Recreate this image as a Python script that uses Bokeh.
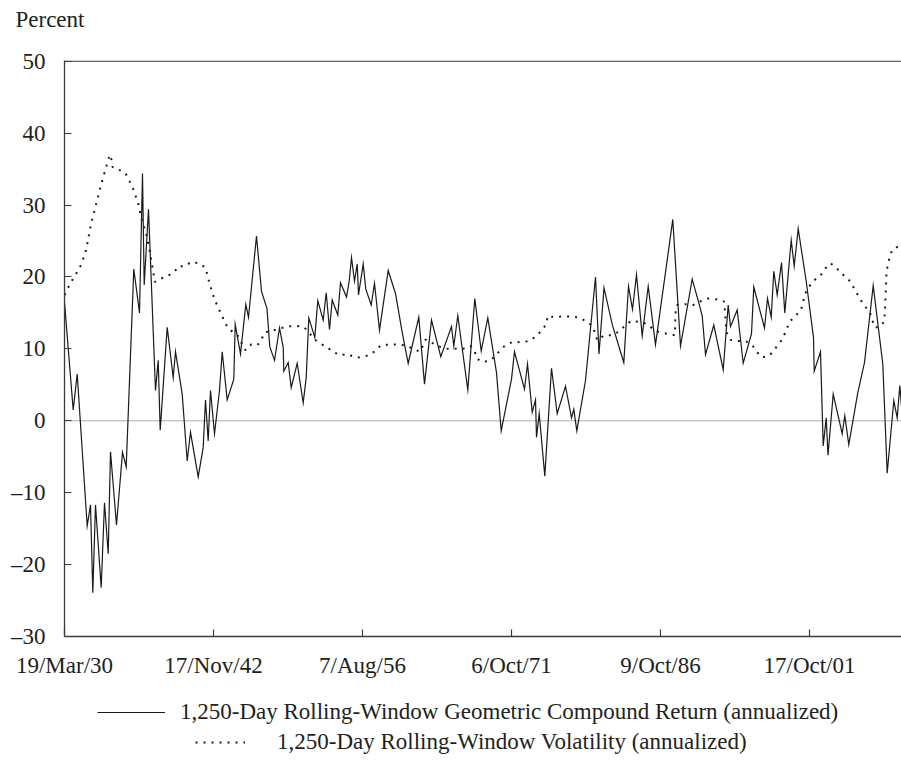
from bokeh.plotting import figure
from bokeh.layouts import column
from bokeh.models import Range1d, FixedTicker, Span, Legend, LegendItem
from bokeh.embed import file_html
from bokeh.resources import INLINE

# x = observation index (rolling-window end points), tick labels are the dates
x_tick_pos = [0, 149, 298, 447, 596, 745]
x_tick_labels = ["19/Mar/30", "17/Nov/42", "7/Aug/56", "6/Oct/71", "9/Oct/86", "17/Oct/01"]
y_ticks = [-30, -20, -10, 0, 10, 20, 30, 40, 50]

ret_obs = [0, 8.7, 12.7, 22.7, 26, 28.3, 31, 36.7, 40, 43.7, 46, 52, 58, 61.7, 69.3, 75, 78, 79.7, 84,
           91, 93.7, 95.7, 102.7, 108.7, 111, 117.7, 122.7, 126, 133.7, 138.7, 141, 143.7, 146, 150,
           155, 157.7, 162.7, 169.3, 170.7, 176, 181.3, 184, 192, 197, 202.5, 205.3, 210, 215, 218.7,
           219.3, 223.7, 226.7, 232.7, 238.7, 241.7, 244.3, 250.3, 253.3, 258.7, 261.7, 265, 267.7,
           273.3, 276, 282, 284.7, 287, 290, 292.7, 294, 298.7, 301.3, 306.7, 310, 315, 323.7, 331,
           337.7, 343.7, 354.3, 360, 367, 376.3, 387, 389.3, 393.3, 403.3, 410.3, 416.7, 423.3, 432,
           436.7, 447, 450, 460, 463, 467.7, 471, 472, 474.7, 480.3, 487, 492.7, 501, 507, 509.3,
           512.3, 521, 531, 534.5, 539.5, 547.7, 559.3, 564, 568, 572, 577.7, 583.7, 591, 608.3,
           616, 627.7, 634.3, 637.7, 641, 649.3, 658.7, 663.7, 666, 672.7, 678.7, 687, 689.3, 700,
           703, 706.7, 709.3, 712.7, 717, 720.3, 726.7, 729.7, 733.7, 741.7, 749, 749.7, 756, 758.7,
           761.7, 763.5, 768.7, 777.7, 780.3, 784.3, 793.3, 800, 808.7, 818.3, 822.7, 829.3, 832.7,
           835.3, 837]
ret_val = [16.5, 1.5, 6.5, -14.6, -11.7, -23.9, -11.7, -23.2, -11.4, -18.5, -4.3, -14.5, -4.4, -6.4,
           21.1, 15.0, 34.4, 18.9, 29.4,
           4.2, 8.4, -1.3, 13.0, 6.0, 9.6, 3.7, -5.6, -1.6, -7.8, -3.7, 2.9, -2.8, 4.2, -1.8,
           4.2, 9.6, 2.9, 5.8, 13.4, 9.3, 16.2, 14.4, 25.7, 18.0, 15.6, 10.3, 8.4, 12.9, 10.2,
           6.9, 8.1, 4.6, 8.0, 2.5, 6.0, 14.3, 11.6, 16.7, 14.0, 17.8, 12.7, 16.8,
           14.7, 19.2, 17.2, 19.4, 22.7, 19.4, 21.8, 17.5, 21.8, 18.3, 16.1, 19.1, 12.6, 20.9, 17.7,
           12.3, 8.0, 14.4, 5.1, 14.0, 8.9, 13.1, 10.4, 14.6, 4.3, 17.0, 9.7, 14.3, 6.7,
           -1.4, 5.8, 9.6, 4.4, 7.9, 1.2, 2.9, -2.3, 1.0, -7.7, 7.3, 1.0, 4.8, 0.4, 1.6,
           -1.4, 5.6, 20.0, 9.3, 18.5, 13.4, 8.1, 18.7, 15.5, 20.3, 11.8, 18.7, 10.6, 28.0,
           10.4, 19.7, 16.4, 14.6, 9.2, 13.3, 7.1, 16.1, 13.1, 15.4, 8.0, 12.1, 18.6, 12.9,
           17.0, 14.4, 20.8, 17.5, 22.0, 15.0, 25.1, 21.5, 26.7, 19.4, 11.6, 6.9, 9.6, -3.5,
           0.4, -4.8, 3.7, -1.8, 0.7, -3.3, 3.9, 8.1, 18.8, 7.9, -7.3, 2.8, 0.4,
           4.9, 2.0]

vol_obs = [0, 4.7, 8.7, 12.7, 17, 21.7, 23.3, 26.3, 30.3, 34.3, 38.3, 43, 45.3, 47, 48, 54.3, 60.7,
           64.3, 68, 73.3, 77, 81.7, 85, 89, 90.3, 95.3, 102.3, 109.3, 114.3, 120.7, 126.7, 134.3,
           141, 145, 150, 156.7, 163.3, 174.3, 177.7, 181, 186.7, 192.7, 196.7, 200, 207, 215, 222,
           230.3, 238.3, 243.7, 248.3, 255, 261.7, 268.7, 275.7, 282.7, 289, 296, 304, 310.7, 316.3,
           324.7, 332.7, 340.3, 347.7, 355.3, 358.3, 361, 368, 375.3, 383.3, 390.7, 398.3, 406, 410,
           412, 417, 424.3, 431, 436, 442, 448.7, 456.7, 464.7, 471.3, 476.7, 481.7, 483.3, 489.3,
           497.7, 505.3, 513.3, 521, 527, 530.3, 532.7, 540, 547.7, 554.3, 560.3, 566.7, 574.7, 582,
           588.3, 595, 602.7, 610.3, 611, 612.7, 621, 628.7, 636, 643.7, 652, 659.3, 660.3, 662, 666,
           673.7, 682, 688.3, 692.7, 698, 705.3, 710.3, 715.3, 719.3, 725.3, 731.3, 736.7, 740.7,
           744.3, 749.3, 756, 761, 766, 771.7, 776.7, 783.3, 787.7, 791.7, 795.7, 800, 805.3, 810,
           814.3, 819.3, 820.3, 821, 822, 823.3, 825.3, 827.7, 834.3, 837]
vol_val = [17.5, 18.8, 19.8, 20.7, 21.8, 23.8, 25.0, 27.2, 29.4, 31.6, 33.7, 35.9, 37.0, 36.3, 35.3, 34.9, 34.5,
           33.5, 32.5, 30.4, 28.1, 26.0, 23.8, 20.5, 19.3, 19.7, 20.1, 20.6, 21.5, 21.5, 22.1, 21.9,
           21.3, 19.1, 16.9, 14.8, 12.9, 11.7, 10.6, 9.8, 10.6, 10.5, 11.2, 12.3, 12.5, 12.8, 13.1,
           13.2, 13.1, 12.5, 11.5, 10.8, 10.3, 9.6, 9.1, 9.3, 8.9, 8.8, 9.1, 9.7, 10.5,
           10.6, 10.6, 10.5, 10.1, 9.6, 10.4, 11.3, 10.8, 10.3, 10.0, 10.0, 10.0, 10.4, 9.8,
           8.7, 8.2, 8.3, 9.0, 9.9, 10.6, 11.0, 10.9, 11.1, 11.7, 12.5, 13.4, 14.6, 14.4,
           14.5, 14.5, 14.4, 13.9, 13.3, 12.3, 11.2, 11.9, 11.9, 12.4, 13.2, 13.9, 13.75, 13.5,
           12.8, 12.3, 12.1, 11.9, 15.0, 16.1, 16.2, 16.1, 16.6, 17.0, 16.9, 16.6, 15.5, 12.3, 11.25,
           11.1, 11.0, 10.4, 9.5, 8.8, 9.1, 10.0, 10.8, 11.8, 13.8, 14.6, 15.5, 17.7,
           18.6, 19.5, 20.2, 21.2, 21.9, 21.3, 20.5, 19.8, 18.9, 17.9, 16.9, 16.0, 15.1, 13.0,
           13.0, 13.7, 14.9, 17.1, 20.6, 21.7, 22.8, 23.8, 24.3, 24.5]

ret_label = "1,250-Day Rolling-Window Geometric Compound Return (annualized)"
vol_label = "1,250-Day Rolling-Window Volatility (annualized)"

FONT = "Liberation Serif"
FS = "23px"
TXT = "#231f20"
AX = "#3a3a3a"
RET_STYLE = dict(line_color="#1a1a1a", line_width=1.2)
VOL_STYLE = dict(line_color="#1a1a1a", line_width=2, line_dash="2 6")

p = figure(width=901, height=690, output_backend="svg", toolbar_location=None,
           x_range=Range1d(0, 837), y_range=Range1d(-30, 50.1),
           min_border_left=64, min_border_right=0, min_border_top=60, min_border_bottom=54,
           title="Percent\n")
p.outline_line_color = None
p.xgrid.visible = False
p.ygrid.visible = False

p.title.text_font = FONT
p.title.text_font_size = FS
p.title.text_font_style = "normal"
p.title.text_color = TXT
p.title.text_line_height = 1.0
p.title.align = "left"
p.title.offset = -49
p.title.standoff = 8

xa = p.xaxis[0]
xa.ticker = FixedTicker(ticks=x_tick_pos)
xa.major_label_overrides = {t: l for t, l in zip(x_tick_pos, x_tick_labels)}
ya = p.yaxis[0]
ya.ticker = FixedTicker(ticks=y_ticks)
ya.major_label_overrides = {t: (("\u2013" + str(-t)) if t < 0 else str(t)) for t in y_ticks}
for ax in (xa, ya):
    ax.axis_line_color = AX
    ax.axis_line_width = 1.3
    ax.major_tick_line_color = AX
    ax.major_tick_line_width = 1.2
    ax.major_tick_in = 7
    ax.major_tick_out = 0
    ax.minor_tick_line_color = None
    ax.major_label_text_font = FONT
    ax.major_label_text_font_size = FS
    ax.major_label_text_color = TXT
xa.major_label_standoff = 16
ya.major_label_standoff = 19

p.add_layout(Span(location=50, dimension="width", line_color=AX, line_width=1.2))
p.add_layout(Span(location=0, dimension="width", line_color="#c8c8c8", line_width=1.5, level="underlay"))

p.line(ret_obs, ret_val, line_join="miter", **RET_STYLE)
p.line(vol_obs, vol_val, **VOL_STYLE)

# legend strip below the chart (frame aligned with the chart frame)
lg = figure(width=901, height=75, output_backend="svg", toolbar_location=None,
            x_axis_type=None, y_axis_type=None, x_range=Range1d(0, 1), y_range=Range1d(0, 1),
            min_border_left=64, min_border_right=0, min_border_top=0, min_border_bottom=0)
lg.outline_line_color = None
lg.xgrid.visible = False
lg.ygrid.visible = False
nan = float("nan")
k1 = lg.line([nan], [nan], **RET_STYLE)
k2 = lg.line([nan], [nan], **VOL_STYLE)

def mk_legend(item_label, rend, loc, gw, standoff):
    return Legend(items=[LegendItem(label=item_label, renderers=[rend])], location=loc,
                  glyph_width=gw, glyph_height=20, label_standoff=standoff,
                  label_text_font=FONT, label_text_font_size=FS, label_text_color=TXT,
                  padding=0, margin=0, spacing=0, border_line_color=None,
                  background_fill_alpha=0, label_height=30)

lg.add_layout(mk_legend(ret_label, k1, (33, 38), 68, 15))
lg.add_layout(mk_legend(vol_label, k2, (131, 8), 50, 32))

open("out.html", "w").write(file_html(column(p, lg, spacing=0), INLINE))
